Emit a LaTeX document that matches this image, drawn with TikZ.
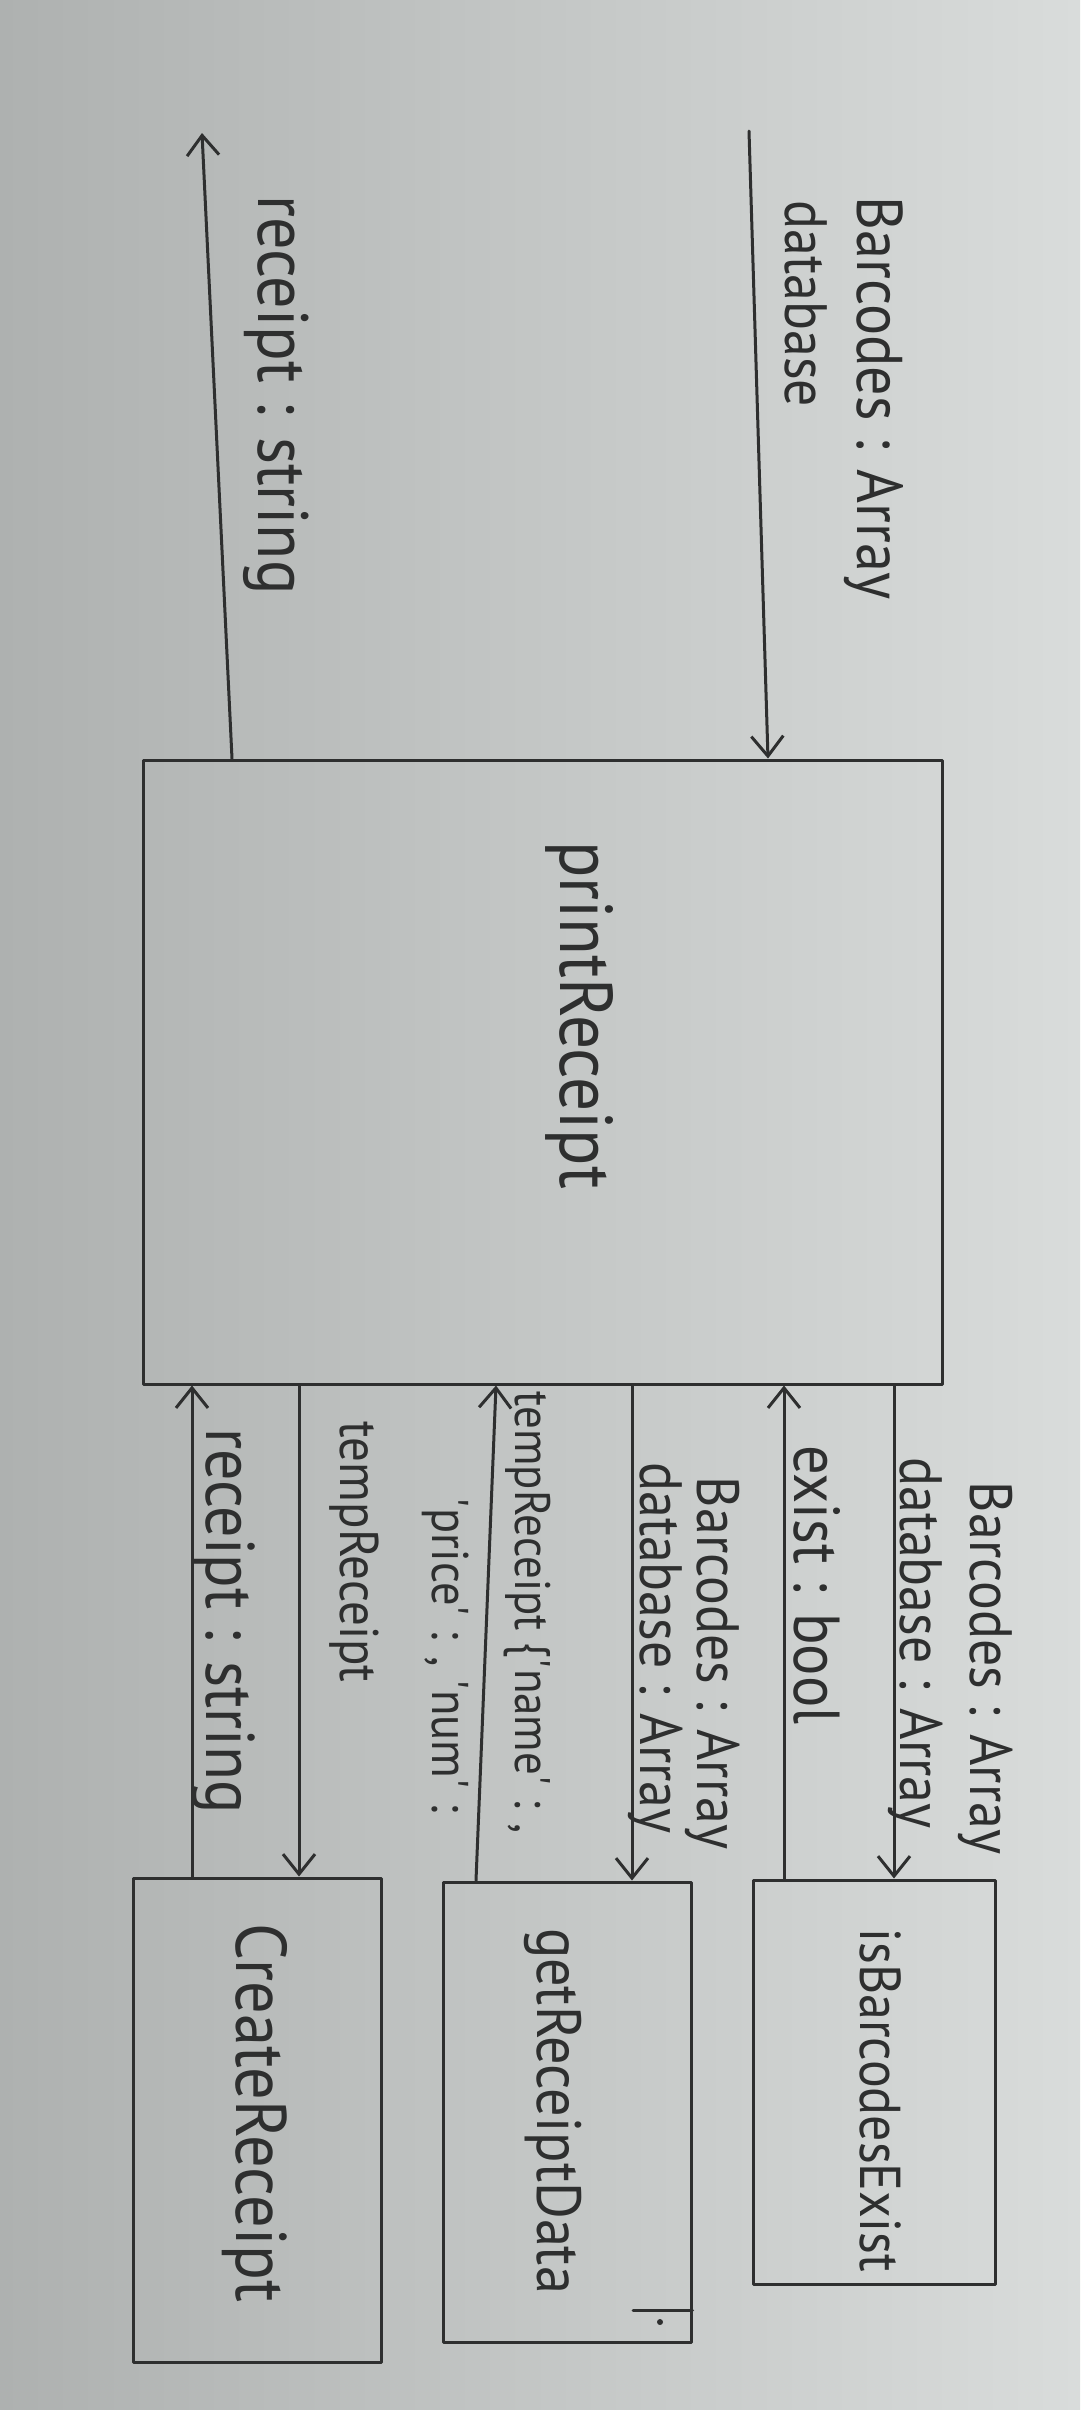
\documentclass[tikz,border=0pt]{standalone}
\usepackage{fontspec}
\setmainfont{PT Sans}[FakeStretch=0.9]
\usetikzlibrary{arrows.meta,fit}

\definecolor{ink}{HTML}{2E2F2F}
\definecolor{paperL}{HTML}{AEB1B0}
\definecolor{paperR}{HTML}{D9DCDB}

\newcommand{\sq}{\textquotesingle}

\tikzset{
  pen/.style={draw=ink, line width=0.3mm, line cap=round, line join=round},
  fnbox/.style={pen, rectangle, inner sep=0pt},
  flow/.style={pen, -{Straight Barb[length=2mm,width=3.2mm]}},
  vtext/.style={text=ink, rotate=-90, inner sep=0pt, anchor=base},
  lbl/.style={vtext, font=\fontsize{#1}{#1}\selectfont},
  lbl/.default=17,
}

\begin{document}
\begin{tikzpicture}[x=0.1mm,y=-0.1mm]
  % paper
  \shade[left color=paperL, right color=paperR] (0,0) rectangle (1080,2410);
  \useasboundingbox (0,0) rectangle (1080,2410);

  % function boxes
  \node[fnbox, fit={(143,760) (942,1384)}] (main) {};
  \node[fnbox, fit={(133,1878) (381,2362)}] (cr) {};
  \node[fnbox, fit={(443,1882) (691,2342)}] (grd) {};
  \node[fnbox, fit={(753,1880) (995,2284)}] (isb) {};

  % box titles
  \node[lbl=21.3] (mainT) at (560,1015) {printReceipt};
  \node[lbl=20.4] (crT)   at (236,2113) {CreateReceipt};
  \node[lbl=17.8] (grdT)  at (537,2111) {getReceiptData};
  \node[lbl=16.4] (isbT)  at (860,2100) {isBarcodesExist};

  % x positions of the connectors
  \coordinate (xIn)  at (768,0);
  \coordinate (xOut) at (232,0);
  \coordinate (x1) at (192,0);
  \coordinate (x2) at (299,0);
  \coordinate (x3b) at (476,0);
  \coordinate (x3t) at (496,0);
  \coordinate (x4) at (632,0);
  \coordinate (x5) at (784,0);
  \coordinate (x6) at (894,0);

  % program input and output
  \coordinate (inTop)  at (749,131);
  \coordinate (outTop) at (202,133);
  \draw[flow] (inTop) -- (main.north -| xIn);
  \draw[flow] (main.north -| xOut) -- (outTop);

  % calls between printReceipt and its helpers
  \draw[flow] (cr.north -| x1) -- (main.south -| x1);
  \draw[flow] (main.south -| x2) -- (cr.north -| x2);
  \draw[flow] (grd.north -| x3b) -- (main.south -| x3t);
  \draw[flow] (main.south -| x4) -- (grd.north -| x4);
  \draw[flow] (isb.north -| x5) -- (main.south -| x5);
  \draw[flow] (main.south -| x6) -- (isb.north -| x6);

  % small mark in the corner of getReceiptData
  \coordinate (mk) at (633,2310);
  \draw[pen] (grd.east |- mk) -- (mk);
  \fill[ink] (660,2322) circle (3);

  % labels of the input and output
  \node[lbl=18.4] (tBar) at (857,398) {Barcodes : Array};
  \node[lbl]      (tDb)  at (785,304) {database};
  \node[lbl=20.3] (tRec) at (258,395) {receipt : string};

  % labels of the calls
  \node[lbl=19.6] (lRec)  at (206,1621) {receipt : string};
  \node[lbl=15.5] (lTmp)  at (340,1552) {tempReceipt};
  \node[lbl=14.2] (lTmpA) at (515,1613) {tempReceipt \{\sq name\sq\ : ,};
  \node[lbl=14.7] (lTmpB) at (432,1655) {\sq price\sq\ : , \sq num\sq\ :};
  \node[lbl]      (lBarG) at (697,1663) {Barcodes : Array};
  \node[lbl]      (lDbG)  at (640,1648) {database : Array};
  \node[lbl=18.5] (lEx)   at (794,1585) {exist : bool};
  \node[lbl]      (lDbI)  at (900,1643) {database : Array};
  \node[lbl]      (lBarI) at (970,1668) {Barcodes : Array};
\end{tikzpicture}
\end{document}
